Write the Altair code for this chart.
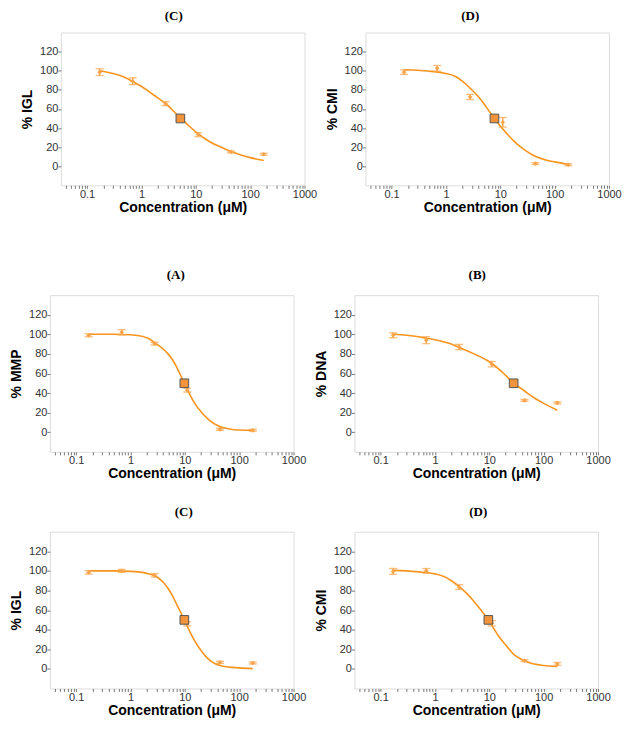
import altair as alt
import pandas as pd

# ---------------- data ----------------
conc = [0.17, 0.69, 2.78, 11.1, 44.4, 178]

panel_titles = ["(C)", "(D)", "(A)", "(B)", "(C)", "(D)"]
y_titles = ["% IGL", "% CMI", "% MMP", "% DNA", "% IGL", "% CMI"]
x_title = "Concentration (μM)"

mean_igl_a = [98.5, 89, 65.5, 33, 15, 12.5]
err_igl_a = [3.5, 3.5, 2, 2, 1, 1]
mean_cmi_a = [98.5, 102.5, 72.5, 46, 2.7, 1.5]
err_cmi_a = [2.4, 3, 2.7, 5, 1, 1]
mean_mmp = [99, 102, 90.5, 43, 3, 2]
err_mmp = [1.5, 2.7, 1.4, 2, 1, 1]
mean_dna = [99, 94, 87, 69.5, 32.5, 30]
err_dna = [2.5, 3.5, 2.7, 2.7, 1, 1]
mean_igl_b = [98.5, 100, 95.5, 46, 6.7, 6]
err_igl_b = [1.7, 1.5, 1.8, 2.2, 1, 1]
mean_cmi_b = [99.5, 100, 83.5, 46.5, 8.4, 5]
err_cmi_b = [3, 2.4, 2.4, 2.7, 1, 1.5]

# fitted curves
curve_x_igl_a = [0.17, 0.3, 0.5, 0.7, 1, 1.5, 2, 2.7, 4, 5.2, 6.8, 10.5, 18.4, 30, 43, 70, 100, 178]
curve_y_igl_a = [100, 97, 93, 88.4, 83.5, 76.5, 71.5, 66.3, 57, 50.4, 44.4, 35, 25.4, 19.5, 15.6, 11.5, 9, 6]
curve_x_cmi_a = [0.17, 0.3, 0.5, 1, 1.5, 2, 2.8, 4, 5, 6, 7.8, 10, 14, 18, 28, 40, 74, 100, 178]
curve_y_cmi_a = [101, 100.5, 99.5, 97, 94, 89, 81.5, 72.5, 65.5, 59, 50, 42, 32.5, 26, 17, 11.5, 6, 4.5, 2]
curve_x_mmp = [0.17, 0.5, 1, 2, 2.8, 4, 5, 6, 7, 8, 9.8, 12, 15, 20.6, 28, 42, 70, 100, 178]
curve_y_mmp = [100, 100, 99.5, 96.5, 91.5, 85, 79.5, 73.5, 67, 60.5, 50, 40, 30, 20, 12.5, 6.3, 3, 2.3, 2]
curve_x_dna = [0.17, 0.3, 0.5, 0.7, 1, 2, 2.8, 5, 10, 15, 20, 28, 40, 50, 70, 100, 178]
curve_y_dna = [100, 99, 97.5, 96, 94.5, 90, 86.5, 80.5, 72, 64.5, 58, 50, 44, 40, 34.5, 29.5, 22.5]
curve_x_igl_b = [0.17, 0.5, 1, 2, 2.8, 4, 5, 6, 7, 8, 9.8, 12, 15, 20, 25, 30, 48, 100, 178]
curve_y_igl_b = [100, 100, 99.5, 97.5, 95, 88.5, 81.5, 74, 66.5, 60, 50, 39.5, 29, 18.5, 12, 8, 3, 1, 0.3]
curve_x_cmi_b = [0.17, 0.3, 0.5, 1, 1.5, 2, 2.8, 4, 5, 7, 9.6, 12, 15, 20, 30, 40, 53, 100, 178]
curve_y_cmi_b = [100.5, 100, 99, 97, 94, 90, 84, 76, 70, 60, 50, 41.5, 33, 24.5, 13.5, 9.5, 6.5, 3.5, 2.5]

ic50_x = [5.2, 7.8, 9.8, 28, 9.8, 9.6]
ic50_y = [50, 50, 50, 50, 50, 50]

x_major = [0.1, 1, 10, 100, 1000]
y_ticks = [0, 20, 40, 60, 80, 100, 120]

means = [mean_igl_a, mean_cmi_a, mean_mmp, mean_dna, mean_igl_b, mean_cmi_b]
errs = [err_igl_a, err_cmi_a, err_mmp, err_dna, err_igl_b, err_cmi_b]
curve_xs = [curve_x_igl_a, curve_x_cmi_a, curve_x_mmp, curve_x_dna, curve_x_igl_b, curve_x_cmi_b]
curve_ys = [curve_y_igl_a, curve_y_cmi_a, curve_y_mmp, curve_y_dna, curve_y_igl_b, curve_y_cmi_b]

# ---------------- style ----------------
LINE = "#F7941E"
PT = "#F9A44A"
SQ_FILL = "#F0933A"
SQ_STROKE = "#555555"
FRAME = "#8f8f8f"

W = 244
heights = [153, 153, 157, 157, 157, 157]
title_dx = [-9, -17, 4, 1, 12, 2]
title_off = [10, 10, 13, 13, 13, 13]

minor = [m * d for d in x_major[:-1] for m in range(1, 10)] + [m * 0.01 for m in range(4, 10)] + [x_major[-1]]
major_test = " || ".join(f"abs(datum.value - {v}) < {v * 1e-6}" for v in x_major)


def panel(i):
    pts = pd.DataFrame({
        "x": conc,
        "y": means[i],
        "lo": [m - e for m, e in zip(means[i], errs[i])],
        "hi": [m + e for m, e in zip(means[i], errs[i])],
    })
    cur = pd.DataFrame({"x": curve_xs[i], "y": curve_ys[i]})
    ic = pd.DataFrame({"x": [ic50_x[i]], "y": [ic50_y[i]]})

    xs = alt.Scale(type="log", domain=[0.033, 1000], nice=False)
    ys = alt.Scale(domain=[-20, 140], nice=False, zero=False)
    xaxis = alt.Axis(
        values=minor, labelExpr=f"({major_test}) ? format(datum.value, '~g') : ''",
        title=x_title, grid=False, domain=False, tickSize=3, tickColor="#777",
        labelFontSize=11, labelColor="#333", labelFont="Liberation Sans", labelPadding=0,
        labelOverlap=False, labelFlush=False,
        titleFontSize=14, titleFont="Liberation Sans", titleFontWeight="bold", titleColor="#000",
        titlePadding=1,
    )
    yaxis = alt.Axis(
        values=y_ticks, title=y_titles[i], grid=False, domain=False, tickSize=3, tickColor="#777",
        labelFontSize=11, labelColor="#333", labelFont="Liberation Sans", labelPadding=0,
        titleFontSize=14, titleFont="Liberation Sans", titleFontWeight="bold", titleColor="#000",
        titlePadding=5,
    )
    X = alt.X("x:Q", scale=xs, axis=xaxis)

    line = alt.Chart(cur).mark_line(color=LINE, strokeWidth=1.6, interpolate="monotone").encode(
        x=X, y=alt.Y("y:Q", scale=ys, axis=yaxis))
    err = alt.Chart(pts).mark_errorbar(color=PT, thickness=1.4, ticks={"size": 8}).encode(
        x=X, y=alt.Y("lo:Q", scale=ys, axis=yaxis), y2="hi:Q")
    dots = alt.Chart(pts).mark_point(shape="diamond", filled=True, size=22, color=PT, opacity=1).encode(
        x=X, y=alt.Y("y:Q", scale=ys, axis=yaxis))
    sq = alt.Chart(ic).mark_square(size=75, fill=SQ_FILL, stroke=SQ_STROKE, strokeWidth=1, opacity=1).encode(
        x=X, y=alt.Y("y:Q", scale=ys, axis=yaxis))

    return alt.layer(line, err, dots, sq).properties(
        width=W, height=heights[i],
        title=alt.TitleParams(panel_titles[i], font="Liberation Serif", fontSize=13, fontWeight="bold",
                              color="#000", anchor="middle", frame="group", offset=title_off[i],
                              dx=title_dx[i]),
    )


def spacer(w):
    # invisible, empty cell that only reserves horizontal room at the start of a row
    return alt.Chart(pd.DataFrame({"v": [0]})).mark_rule(opacity=0).encode(
        x=alt.value(0), y=alt.value(0), y2=alt.value(1)
    ).properties(width=w, height=1, view=alt.ViewBackground(strokeOpacity=0))


row1 = alt.hconcat(spacer(12), alt.hconcat(panel(0), panel(1), spacing=7), spacing=0)
row2 = alt.hconcat(spacer(1), alt.hconcat(panel(2), panel(3), spacing=7), spacing=0)
row3 = alt.hconcat(spacer(1), alt.hconcat(panel(4), panel(5), spacing=7), spacing=0)

chart = alt.vconcat(row1, alt.vconcat(row2, row3, spacing=23), spacing=53).properties(
    padding={"left": 0, "top": 0, "right": 0, "bottom": 0}
).configure_view(stroke=FRAME, strokeWidth=1.4).configure(background="white")

chart.save("out.html", embed_options={"renderer": "svg", "actions": False})
